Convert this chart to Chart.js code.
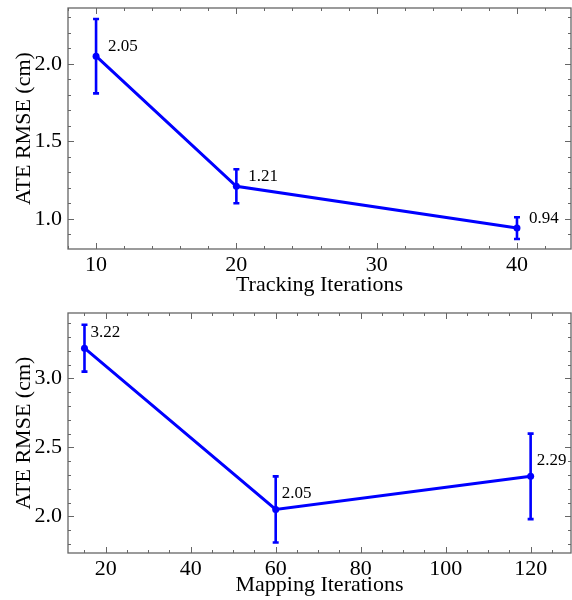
<!DOCTYPE html>
<html>
<head>
<meta charset="utf-8">
<script src="https://cdn.jsdelivr.net/npm/chart.js@4/dist/chart.umd.min.js"></script>
<style>
    html, body { margin: 0; padding: 0; background: #fff; }
    .box { position: relative; width: 572px; height: 300px; }
</style>
</head>
<body>
<div class="box"><canvas id="trackChart"></canvas></div>
<div class="box"><canvas id="mapChart"></canvas></div>
<script>
// ─── Data ─────────────────────────────────────────────────────────
const trackIters  = [10, 20, 40];
const trackRmse   = [2.05, 1.21, 0.94];
const trackErr    = [0.24, 0.11, 0.07];
const trackXTicks = [10, 20, 30, 40];
const trackYTicks = [1.0, 1.5, 2.0];

const mapIters  = [15, 60, 120];
const mapRmse   = [3.22, 2.05, 2.29];
const mapErr    = [0.17, 0.24, 0.31];
const mapXTicks = [20, 40, 60, 80, 100, 120];
const mapYTicks = [2.0, 2.5, 3.0];

const BLUE  = '#0000ff';
const FRAME = '#666666';
const TEXT  = '#000000';
const FONT  = "'Liberation Serif', 'Times New Roman', serif";

// ─── Frame with inward major / minor ticks on all four sides ──────
const framePlugin = {
    id: 'frame',
    beforeDatasetsDraw(chart, args, opts) {
        const { ctx, chartArea: a, scales: { x, y } } = chart;
        ctx.save();
        ctx.strokeStyle = FRAME;
        ctx.lineWidth = 1.3;
        ctx.strokeRect(a.left, a.top, a.right - a.left, a.bottom - a.top);

        ctx.lineWidth = 1;
        const near = (v, list) => list.some(t => Math.abs(t - v) < 1e-6);
        const xMajor = x.ticks.map(t => t.value);
        const yMajor = y.ticks.map(t => t.value);

        const xTick = (v, len) => {
            const px = Math.round(x.getPixelForValue(v)) + 0.5;
            ctx.beginPath();
            ctx.moveTo(px, a.bottom); ctx.lineTo(px, a.bottom - len);
            ctx.moveTo(px, a.top);    ctx.lineTo(px, a.top + len);
            ctx.stroke();
        };
        const yTick = (v, len) => {
            const py = Math.round(y.getPixelForValue(v)) + 0.5;
            ctx.beginPath();
            ctx.moveTo(a.left, py);  ctx.lineTo(a.left + len, py);
            ctx.moveTo(a.right, py); ctx.lineTo(a.right - len, py);
            ctx.stroke();
        };

        xMajor.forEach(v => xTick(v, 6));
        yMajor.forEach(v => yTick(v, 6));
        for (let v = Math.ceil(x.min / opts.minorX) * opts.minorX; v <= x.max; v += opts.minorX) {
            if (!near(v, xMajor)) xTick(v, 3);
        }
        for (let k = Math.ceil(y.min / opts.minorY); k * opts.minorY <= y.max; k++) {
            const v = +(k * opts.minorY).toFixed(4);
            if (!near(v, yMajor)) yTick(v, 3);
        }
        ctx.restore();
    }
};

// ─── Error bars + value labels ────────────────────────────────────
const errorPlugin = {
    id: 'errorBars',
    afterDatasetsDraw(chart, args, opts) {
        const { ctx, scales: { x, y } } = chart;
        const xs = chart.data.datasets[0].data.map(p => p.x);
        const ys = chart.data.datasets[0].data.map(p => p.y);
        ctx.save();
        ctx.strokeStyle = BLUE;
        ctx.lineWidth = 2.6;
        xs.forEach((xv, i) => {
            const px  = x.getPixelForValue(xv);
            const top = y.getPixelForValue(ys[i] + opts.err[i]);
            const bot = y.getPixelForValue(ys[i] - opts.err[i]);
            ctx.beginPath();
            ctx.moveTo(px, top); ctx.lineTo(px, bot);
            ctx.moveTo(px - 3, top); ctx.lineTo(px + 3, top);
            ctx.moveTo(px - 3, bot); ctx.lineTo(px + 3, bot);
            ctx.stroke();
        });

        ctx.fillStyle = TEXT;
        ctx.font = `17px ${FONT}`;
        ctx.textAlign = 'left';
        ctx.textBaseline = 'middle';
        xs.forEach((xv, i) => {
            const px = x.getPixelForValue(xv);
            const py = y.getPixelForValue(ys[i]);
            ctx.fillText(ys[i].toFixed(2), px + opts.dx, py + opts.dy);
        });
        ctx.restore();
    }
};

function makeChart(id, cfg) {
    const el = document.getElementById(id);
    new Chart(el, {
        type: 'line',
        data: {
            datasets: [{
                data: cfg.xs.map((v, i) => ({ x: v, y: cfg.ys[i] })),
                borderColor: BLUE,
                backgroundColor: BLUE,
                borderWidth: 3,
                pointRadius: 3.5,
                pointBorderWidth: 0,
                pointBackgroundColor: BLUE,
                tension: 0
            }]
        },
        options: {
            responsive: true,
            maintainAspectRatio: false,
            animation: false,
            layout: {
                autoPadding: false,
                padding: { top: cfg.padTop, right: 1, left: 0, bottom: 0 }
            },
            plugins: {
                legend: { display: false },
                tooltip: { enabled: false },
                frame: { minorX: cfg.minorX, minorY: cfg.minorY },
                errorBars: { err: cfg.err, dx: cfg.dx, dy: cfg.dy }
            },
            scales: {
                x: {
                    type: 'linear',
                    min: cfg.xMin, max: cfg.xMax,
                    afterBuildTicks: s => { s.ticks = cfg.xTicks.map(v => ({ value: v })); },
                    afterFit: s => { s.height = cfg.xHeight; s.paddingLeft = 0; s.paddingRight = 0; },
                    grid: { display: false, drawTicks: false },
                    border: { display: false },
                    ticks: {
                        padding: 3, color: TEXT, maxRotation: 0,
                        font: { family: FONT, size: 22 },
                        callback: v => String(v)
                    },
                    title: {
                        display: true, text: cfg.xTitle, color: TEXT,
                        font: { family: FONT, size: 22 },
                        padding: { top: 0, bottom: 2 }
                    }
                },
                y: {
                    min: cfg.yMin, max: cfg.yMax,
                    afterBuildTicks: s => { s.ticks = cfg.yTicks.map(v => ({ value: v })); },
                    afterFit: s => { s.width = 68; s.paddingTop = 0; s.paddingBottom = 0; },
                    grid: { display: false, drawTicks: false },
                    border: { display: false },
                    ticks: {
                        padding: 6, color: TEXT,
                        font: { family: FONT, size: 22 },
                        callback: v => v.toFixed(1)
                    },
                    title: {
                        display: true, text: 'ATE RMSE (cm)', color: TEXT,
                        font: { family: FONT, size: 22 },
                        padding: { top: 11, bottom: 0 }
                    }
                }
            }
        },
        plugins: [framePlugin, errorPlugin]
    });
}

makeChart('trackChart', {
    xs: trackIters, ys: trackRmse, err: trackErr,
    xTicks: trackXTicks, yTicks: trackYTicks,
    xMin: 8, xMax: 43.85, yMin: 0.805, yMax: 2.361,
    minorX: 2, minorY: 0.1,
    padTop: 8, xHeight: 51,
    dx: 12, dy: -10,
    xTitle: 'Tracking Iterations'
});

makeChart('mapChart', {
    xs: mapIters, ys: mapRmse, err: mapErr,
    xTicks: mapXTicks, yTicks: mapYTicks,
    xMin: 11.12, xMax: 129.5, yMin: 1.734, yMax: 3.475,
    minorX: 5, minorY: 0.1,
    padTop: 13, xHeight: 47,
    dx: 6, dy: -16,
    xTitle: 'Mapping Iterations'
});
</script>
</body>
</html>
